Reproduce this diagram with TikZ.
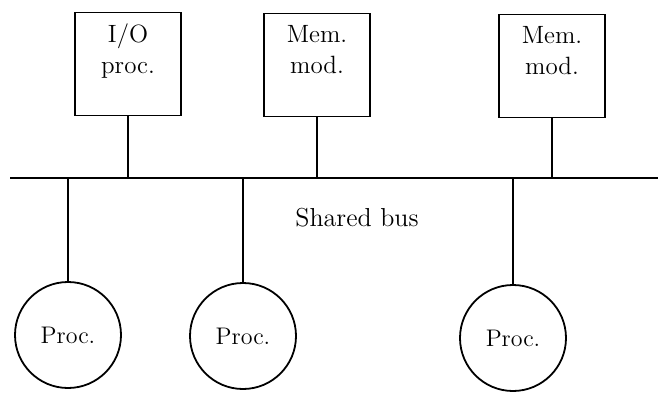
\documentclass[tikz,border=0pt]{standalone}
\usepackage{tikz}
\usetikzlibrary{positioning}
\tikzset{
  unitbox/.style={
    rectangle, draw, line width=0.9pt,
    minimum width=53pt, minimum height=51.5pt, inner sep=0pt
  },
  boxtext/.style={
    align=center, inner sep=0pt,
    font=\fontsize{12.5}{15.5}\selectfont
  },
  procnode/.style={
    circle, draw, line width=0.9pt,
    minimum size=53pt, inner sep=0pt,
    font=\fontsize{12}{14}\selectfont
  },
  busline/.style={line width=0.9pt},
}

\begin{document}
\begin{tikzpicture}[x=0.5pt, y=-0.5pt]
  \useasboundingbox (0,0) rectangle (659,396);
  % modules above the bus
  \node[unitbox] (io) at (128,64) {};
  \node[unitbox] (mema) at (317,65) {};
  \node[unitbox] (memb) at (552,66) {};
  \node[boxtext, below=6pt of io.north] (iotext) {I/O\\proc.};
  \node[boxtext, below=6pt of mema.north] (rmatext) {Mem.\\mod.};
  \node[boxtext, below=6pt of memb.north] (rmbtext) {Mem.\\mod.};
  % processors below the bus
  \node[procnode] (pa) at (68,335) {Proc.};
  \node[procnode] (pb) at (243,336) {Proc.};
  \node[procnode] (pc) at (513,338) {Proc.};
  % the bus itself
  \coordinate (busl) at (10,178);
  \coordinate (busr) at (658,178);
  \draw[busline] (busl) -- (busr);
  \node[font=\fontsize{13}{15}\selectfont] (buslabel) at (357,218) {Shared bus};
  \foreach \u in {io,mema,memb,pa,pb,pc}
    \draw[busline] (\u) -- (\u |- busl);
\end{tikzpicture}
\end{document}
